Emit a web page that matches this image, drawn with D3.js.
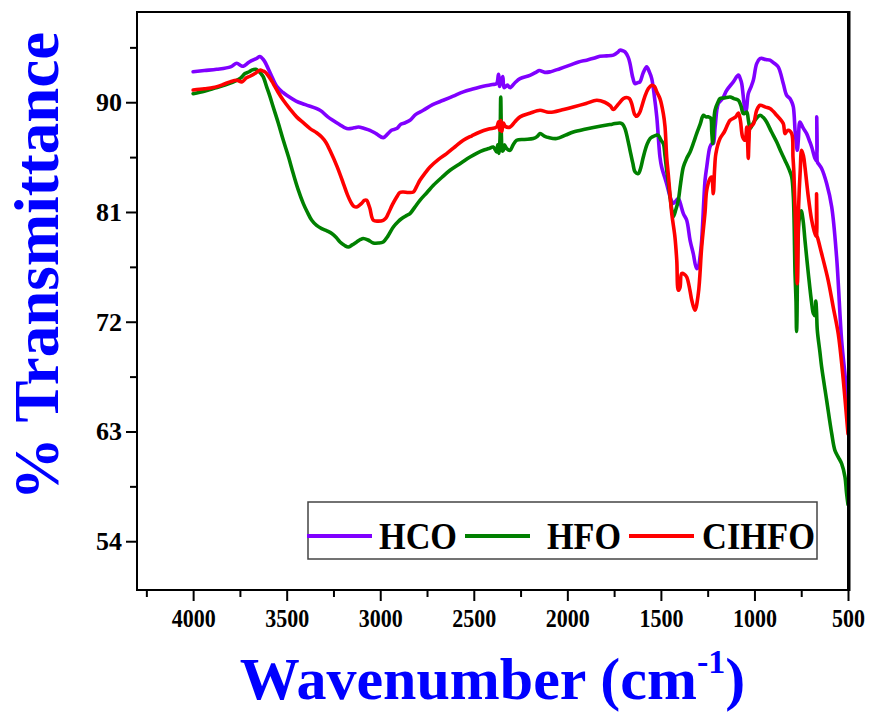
<!DOCTYPE html>
<html>
<head>
<meta charset="utf-8">
<script src="https://cdn.jsdelivr.net/npm/d3@7"></script>
<style>
  body { margin: 0; background: #fff; }
  svg { display: block; }
</style>
</head>
<body>
<svg id="chart"></svg>
<script>
// FTIR spectra, [wavenumber (cm-1), % transmittance]
const hcoData = [
  [4000,92.5],[3940,92.6],[3874,92.7],[3800,92.9],[3767,93.2],[3745,93.0],[3732,92.95],[3700,93.3],[3660,93.6],[3643,93.75],
  [3625,93.5],[3616,93.3],[3585,92.3],[3553,91.3],[3520,90.8],[3500,90.57],[3450,90.1],[3400,89.8],[3322,89.34],[3280,88.8],
  [3220,88.2],[3179,87.84],[3140,87.9],[3117,87.97],[3085,87.85],[3055,87.7],[3020,87.4],[2984,87.1],[2960,87.4],[2940,87.7],
  [2912,87.84],[2890,88.2],[2870,88.3],[2841,88.52],[2810,89.0],[2770,89.34],[2720,89.8],[2663,90.16],[2610,90.5],[2556,90.85],
  [2500,91.1],[2449,91.31],[2400,91.45],[2378,91.53],[2368,92.3],[2362,91.3],[2356,91.7],[2345,92.1],[2338,91.2],[2320,91.4],
  [2306,91.2],[2280,91.6],[2253,91.94],[2200,92.2],[2164,92.49],[2150,92.6],[2120,92.45],[2093,92.49],[2040,92.75],[1986,93.04],
  [1940,93.3],[1897,93.45],[1860,93.6],[1826,93.77],[1790,93.8],[1754,93.86],[1730,94.1],[1719,94.27],[1700,94.2],[1692,94.13],
  [1675,93.7],[1665,93.17],[1650,92.0],[1638,91.53],[1625,91.6],[1612,91.67],[1595,92.4],[1576,92.9],[1562,92.5],[1549,91.94],
  [1535,90.5],[1522,88.8],[1505,85.5],[1496,84.69],[1469,83.3],[1450,82.2],[1434,81.7],[1420,81.9],[1407,82.1],[1398,81.8],
  [1380,80.87],[1362,80.32],[1344,78.68],[1327,77.59],[1309,76.36],[1300,76.5],[1291,77.3],[1282,78.68],[1264,83.6],[1255,84.69],
  [1238,86.33],[1228,86.6],[1220,86.61],[1210,88.0],[1193,89.89],[1170,90.3],[1148,90.98],[1113,91.67],[1086,92.22],[1075,91.9],
  [1068,91.53],[1055,89.8],[1050,89.34],[1045,89.2],[1033,90.71],[1020,91.2],[1006,91.8],[988,93.17],[970,93.58],[961,93.6],
  [940,93.5],[917,93.45],[895,93.2],[873,92.9],[846,91.53],[828,90.57],[810,90.3],[800,90.0],[792,89.61],[783,87.7],
  [778,86.88],[771,86.06],[765,87.0],[757,88.38],[740,87.9],[721,87.43],[705,86.8],[694,86.33],[676,85.38],[669,85.2],
  [667,88.8],[665,85.2],[664,85.1],[641,84.56],[614,83.33],[587,81.41],[561,77.31],[534,70.47],[515,67.5],[500,65.0]
];

const hfoData = [
  [4000,90.7],[3940,90.9],[3892,91.12],[3830,91.4],[3767,91.8],[3745,92.0],[3723,92.35],[3700,92.5],[3687,92.63],[3665,92.7],
  [3652,92.57],[3635,92.3],[3625,92.08],[3607,91.26],[3590,90.5],[3572,89.61],[3545,88.3],[3518,86.88],[3490,85.5],[3465,84.15],
  [3440,82.9],[3411,81.69],[3390,81.0],[3366,80.32],[3340,79.9],[3313,79.64],[3285,79.45],[3259,79.23],[3235,78.9],[3215,78.54],
  [3190,78.25],[3171,78.13],[3150,78.3],[3126,78.54],[3105,78.75],[3091,78.82],[3065,78.7],[3037,78.46],[3010,78.45],[2984,78.54],
  [2960,79.0],[2930,79.77],[2905,80.2],[2885,80.46],[2860,80.7],[2841,80.87],[2815,81.4],[2788,81.96],[2750,82.6],[2716,83.19],
  [2670,83.85],[2627,84.42],[2570,85.0],[2520,85.51],[2480,85.85],[2449,86.06],[2420,86.2],[2396,86.33],[2378,85.92],[2372,86.5],
  [2366,85.8],[2360,87.0],[2356,90.43],[2352,87.0],[2348,86.0],[2342,86.06],[2336,86.5],[2324,86.2],[2306,86.06],[2290,86.5],
  [2271,86.88],[2230,86.95],[2182,87.02],[2160,87.2],[2146,87.43],[2120,87.2],[2100,87.1],[2057,87.02],[2010,87.3],[1968,87.56],
  [1900,87.8],[1826,88.03],[1760,88.2],[1719,88.3],[1705,88.2],[1692,87.84],[1678,87.0],[1665,86.06],[1650,85.0],[1638,84.28],
  [1621,84.15],[1608,84.6],[1594,85.51],[1575,86.5],[1558,87.02],[1540,87.2],[1525,87.3],[1514,87.29],[1500,86.9],[1487,86.61],
  [1478,85.6],[1469,84.42],[1460,83.4],[1451,82.23],[1442,81.2],[1434,80.59],[1420,81.2],[1407,81.96],[1395,83.3],[1380,84.69],
  [1362,85.4],[1344,85.92],[1325,86.7],[1309,87.43],[1290,88.2],[1273,88.93],[1260,88.8],[1246,88.8],[1234,88.7],[1228,87.5],
  [1223,86.61],[1218,88.0],[1211,89.34],[1195,90.0],[1184,90.3],[1160,90.35],[1130,90.43],[1110,90.3],[1086,90.16],[1072,89.7],
  [1060,89.07],[1050,89.1],[1041,89.2],[1032,88.5],[1023,87.84],[1006,88.3],[988,88.7],[970,88.93],[950,88.7],[935,88.38],
  [910,87.6],[881,86.74],[860,86.0],[837,85.24],[815,84.5],[801,83.87],[792,82.23],[783,75.9],[778,73.76],[775,71.2],
  [773,72.0],[768,78.0],[760,80.5],[750,81.1],[740,80.3],[730,78.68],[712,75.95],[694,73.5],[685,72.67],[676,72.5],
  [672,73.7],[668,72.8],[664,71.3],[650,69.5],[641,68.3],[614,65.55],[587,62.82],[570,61.45],[552,60.9],[534,60.36],
  [516,59.26],[508,58.0],[500,57.0]
];

const cihfoData = [
  [4000,91.0],[3940,91.1],[3892,91.2],[3840,91.45],[3803,91.67],[3767,91.8],[3740,91.67],[3715,92.0],[3696,92.13],[3665,92.4],
  [3643,92.63],[3625,92.55],[3616,92.49],[3595,92.1],[3572,91.53],[3545,90.8],[3518,90.16],[3480,89.4],[3447,88.8],[3410,88.3],
  [3375,87.84],[3340,87.5],[3313,87.15],[3290,86.7],[3269,86.06],[3230,84.7],[3197,83.33],[3175,82.4],[3153,81.69],[3140,81.45],
  [3126,81.41],[3100,81.7],[3085,81.95],[3072,81.96],[3062,81.6],[3055,81.28],[3037,80.32],[3010,80.25],[2984,80.32],[2970,80.5],
  [2957,80.87],[2935,81.6],[2912,82.23],[2895,82.6],[2877,82.64],[2850,82.6],[2823,82.64],[2805,83.1],[2788,83.6],[2760,84.2],
  [2734,84.69],[2690,85.3],[2645,85.79],[2600,86.35],[2556,86.88],[2510,87.25],[2467,87.56],[2420,87.8],[2378,87.97],[2368,88.4],
  [2362,87.7],[2356,88.5],[2350,87.6],[2342,88.3],[2330,88.0],[2306,87.97],[2280,88.4],[2253,88.8],[2200,89.1],[2146,89.34],
  [2110,89.2],[2075,89.2],[2020,89.4],[1968,89.61],[1900,89.9],[1843,90.16],[1800,90.0],[1770,89.7],[1754,89.4],[1730,89.8],
  [1700,90.3],[1683,90.39],[1668,90.3],[1656,89.89],[1640,89.0],[1629,88.85],[1615,89.1],[1603,89.61],[1585,90.5],[1567,91.12],
  [1549,91.39],[1535,91.3],[1522,90.85],[1505,90.3],[1487,89.07],[1478,88.0],[1469,85.5],[1460,84.0],[1442,80.87],[1425,78.95],
  [1415,77.0],[1407,74.58],[1398,74.8],[1389,75.95],[1375,75.9],[1362,75.67],[1345,74.6],[1335,73.76],[1318,72.94],[1300,74.31],
  [1282,78.13],[1264,81.0],[1255,82.78],[1238,83.74],[1229,83.87],[1220,82.5],[1213,84.5],[1206,85.8],[1184,87.02],[1160,87.6],
  [1130,88.52],[1100,88.8],[1086,89.12],[1075,88.5],[1063,87.15],[1050,86.88],[1041,87.97],[1036,86.5],[1033,85.4],[1029,86.9],
  [1023,87.97],[1006,88.2],[988,89.34],[970,89.75],[940,89.6],[917,89.48],[881,88.93],[846,88.25],[837,87.43],[828,87.6],
  [819,87.7],[801,87.43],[794,85.5],[789,84.15],[778,78.68],[771,75.12],[764,81.41],[755,84.5],[748,86.06],[738,85.6],
  [730,84.69],[712,82.23],[694,80.32],[682,79.5],[670,79.0],[668,82.5],[666,79.0],[664,78.95],[641,77.59],[606,75.4],
  [579,73.2],[552,71.0],[530,68.0],[500,62.8]
];

const seriesNames = ["HCO", "HFO", "CIHFO"];
const seriesColors = ["#8000ff", "#008000", "#ff0000"];
const xTicks = [4000, 3500, 3000, 2500, 2000, 1500, 1000, 500];
const xMinorTicks = [4250, 3750, 3250, 2750, 2250, 1750, 1250, 750];
const yTicks = [54, 63, 72, 81, 90];
const yMinorTicks = [58.5, 67.5, 76.5, 85.5, 94.5];

const width = 874;
const height = 713;
const margin = { left: 137, top: 12, right: 26, bottom: 123 };
const plotW = width - margin.left - margin.right;
const plotH = height - margin.top - margin.bottom;
const serif = "'Liberation Serif', 'Times New Roman', Times, serif";

const svg = d3.select("#chart").attr("width", width).attr("height", height);

const x = d3.scaleLinear().domain([4300, 500]).range([0, plotW]);
const y = d3.scaleLinear().domain([50, 97.4]).range([plotH, 0]);

const g = svg.append("g").attr("transform", `translate(${margin.left},${margin.top})`);

// clip so lines stay inside the frame
g.append("clipPath").attr("id", "plot-clip")
  .append("rect").attr("width", plotW).attr("height", plotH);

// axes: major + minor ticks
function styleAxis(sel, size) {
  sel.select(".domain").remove();
  sel.selectAll("line").attr("stroke", "#000").attr("stroke-width", 2);
  sel.selectAll("text")
    .attr("font-family", serif)
    .attr("font-weight", "bold")
    .attr("font-size", size)
    .attr("fill", "#000");
}

g.append("g").attr("transform", `translate(0,${plotH})`)
  .call(d3.axisBottom(x).tickValues(xMinorTicks).tickSize(7).tickFormat(""))
  .call(styleAxis, 22);
g.append("g").attr("transform", `translate(0,${plotH})`)
  .call(d3.axisBottom(x).tickValues(xTicks).tickSize(11).tickPadding(8).tickFormat(d3.format("d")))
  .call(styleAxis, 26)
  .selectAll("text")
  // tall, narrow digits like the original export
  .attr("textLength", d => String(d).length * 11)
  .attr("lengthAdjust", "spacingAndGlyphs");

g.append("g")
  .call(d3.axisLeft(y).tickValues(yMinorTicks).tickSize(7).tickFormat(""))
  .call(styleAxis, 22);
g.append("g")
  .call(d3.axisLeft(y).tickValues(yTicks).tickSize(11).tickPadding(4).tickFormat(d3.format("d")))
  .call(styleAxis, 26);

// spectra
const line = d3.line()
  .x(d => x(d[0]))
  .y(d => y(d[1]))
  .curve(d3.curveCatmullRom.alpha(0.5));

const allSeries = [hcoData, hfoData, cihfoData];
g.append("g").attr("clip-path", "url(#plot-clip)")
  .selectAll("path")
  .data(allSeries)
  .join("path")
  .attr("fill", "none")
  .attr("stroke", (d, i) => seriesColors[i])
  .attr("stroke-width", 3.6)
  .attr("stroke-linejoin", "round")
  .attr("stroke-linecap", "round")
  .attr("d", line);

// frame
g.append("rect")
  .attr("width", plotW).attr("height", plotH)
  .attr("fill", "none").attr("stroke", "#000").attr("stroke-width", 2);
g.append("line")
  .attr("x1", plotW + 1.5).attr("x2", plotW + 1.5)
  .attr("y1", -1).attr("y2", plotH + 1)
  .attr("stroke", "#000").attr("stroke-width", 2);

// legend
const legend = svg.append("g").attr("transform", "translate(308,502)");
legend.append("rect")
  .attr("width", 509).attr("height", 57)
  .attr("fill", "#fff").attr("stroke", "#444").attr("stroke-width", 1.5);

const legendItems = [
  { x1: -1, x2: 64, tx: 71 },
  { x1: 157, x2: 222, tx: 239 },
  { x1: 321, x2: 386, tx: 394 }
];
legendItems.forEach((it, i) => {
  legend.append("line")
    .attr("x1", it.x1).attr("x2", it.x2)
    .attr("y1", 34).attr("y2", 34)
    .attr("stroke", seriesColors[i]).attr("stroke-width", 4);
  legend.append("text")
    .attr("x", it.tx).attr("y", 47)
    .attr("font-family", serif)
    .attr("font-weight", "bold")
    .attr("font-size", 38)
    .attr("textLength", [78, 74, 113][i])
    .attr("lengthAdjust", "spacingAndGlyphs")
    .attr("fill", "#000")
    .text(seriesNames[i]);
});

// axis titles
const xTitle = svg.append("text")
  .attr("x", margin.left + plotW / 2)
  .attr("y", 699)
  .attr("text-anchor", "middle")
  .attr("font-family", serif)
  .attr("font-weight", "bold")
  .attr("font-size", 60)
  .attr("fill", "#0000ff");
xTitle.append("tspan").text("Wavenumber (cm");
xTitle.append("tspan").attr("font-size", 34).attr("dy", -26).text("-1");
xTitle.append("tspan").attr("dy", 26).text(")");

svg.append("text")
  .attr("transform", "translate(58,266) rotate(-90)")
  .attr("text-anchor", "middle")
  .attr("font-family", serif)
  .attr("font-weight", "bold")
  .attr("font-size", 63)
  .attr("fill", "#0000ff")
  .text("% Transmittance");
</script>
</body>
</html>
